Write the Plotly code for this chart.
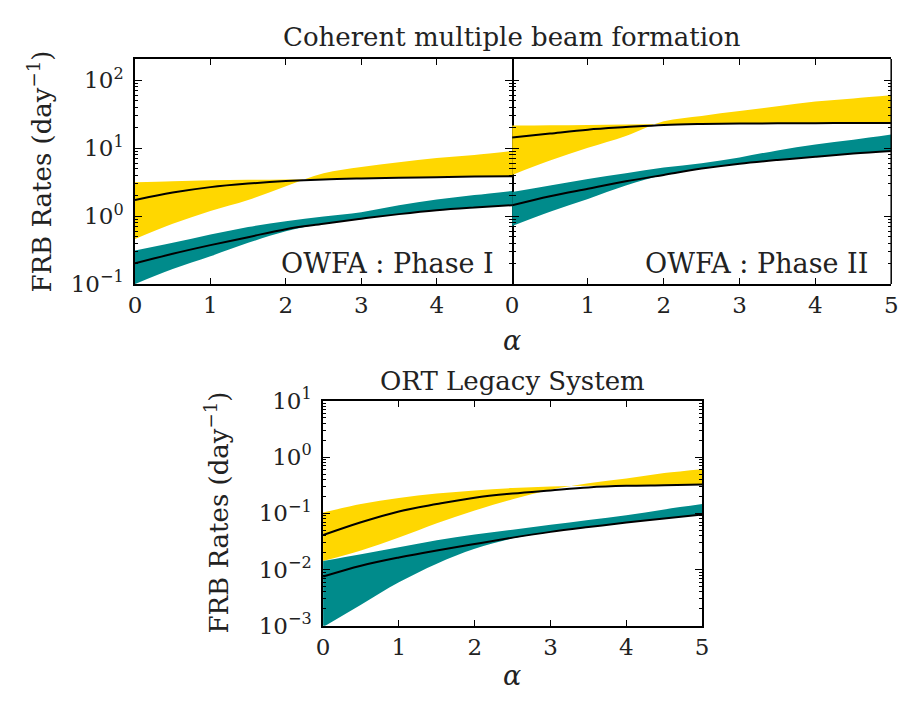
import plotly.graph_objects as go

# ---------------- data ----------------
alpha = [0.0, 0.5, 1.0, 1.5, 2.0, 2.5, 3.0, 3.5, 4.0, 4.5, 5.0]

# OWFA : Phase I
p1_yel_a = [3.15, 3.25, 3.36, 3.43, 3.47, 3.51, 3.58, 3.66, 3.74, 3.82, 3.86]
p1_yel_b = [0.46, 0.77, 1.19, 1.73, 2.76, 4.26, 5.28, 6.2, 7.15, 7.96, 9.08]
p1_yel_mid = [1.73, 2.22, 2.67, 3.01, 3.28, 3.47, 3.58, 3.66, 3.74, 3.82, 3.86]
p1_teal_hi = [0.311, 0.404, 0.535, 0.692, 0.84, 0.99, 1.14, 1.44, 1.75, 2.04, 2.35]
p1_teal_lo = [0.1, 0.166, 0.256, 0.404, 0.60, 0.771, 0.917, 1.07, 1.22, 1.34, 1.45]
p1_teal_mid = [0.202, 0.279, 0.374, 0.49, 0.643, 0.771, 0.917, 1.07, 1.22, 1.34, 1.45]

# OWFA : Phase II
p2_yel_a = [21.5, 21.8, 22.0, 22.3, 22.5, 22.7, 23.0, 23.2, 23.2, 23.5, 23.5]
p2_yel_b = [4.04, 6.56, 10.1, 15.1, 24.8, 29.8, 35.1, 41.2, 48.4, 54.0, 60.1]
p2_yel_mid = [14.3, 16.4, 18.7, 20.4, 22.0, 22.7, 23.0, 23.2, 23.2, 23.5, 23.5]
p2_teal_hi = [2.27, 2.82, 3.51, 4.26, 5.17, 6.02, 7.31, 9.27, 11.3, 13.3, 15.9]
p2_teal_lo = [0.715, 1.16, 1.79, 2.83, 4.04, 5.0, 5.9, 6.7, 7.47, 8.33, 9.07]
p2_teal_mid = [1.44, 1.96, 2.53, 3.25, 4.04, 5.0, 5.9, 6.7, 7.47, 8.33, 9.07]

# ORT Legacy System
ort_yel_a = [0.103, 0.146, 0.187, 0.225, 0.256, 0.281, 0.300, 0.308, 0.312, 0.316, 0.325]
ort_yel_b = [0.0142, 0.0219, 0.037, 0.0667, 0.112, 0.178, 0.263, 0.342, 0.417, 0.52, 0.61]
ort_yel_mid = [0.041, 0.0693, 0.108, 0.146, 0.19, 0.225, 0.256, 0.289, 0.308, 0.316, 0.325]
ort_teal_hi = [0.0142, 0.0187, 0.025, 0.0333, 0.0422, 0.0513, 0.0624, 0.076, 0.0925, 0.117, 0.146]
ort_teal_lo = [0.00095, 0.00237, 0.00593, 0.0127, 0.0234, 0.036, 0.0468, 0.057, 0.0684, 0.081, 0.095]
ort_teal_mid = [0.0075, 0.0117, 0.0164, 0.0219, 0.0285, 0.037, 0.0468, 0.057, 0.0684, 0.081, 0.095]

x_ticks = [0, 1, 2, 3, 4, 5]
x_labels_left = ["0", "1", "2", "3", "4", ""]
x_labels_full = ["0", "1", "2", "3", "4", "5"]
top_y_ticks = [0.1, 1, 10, 100]
top_y_labels = ["10<sup>\u22121</sup>", "10<sup>0</sup>", "10<sup>1</sup>", "10<sup>2</sup>"]
bot_y_ticks = [0.001, 0.01, 0.1, 1, 10]
bot_y_labels = ["10<sup>\u22123</sup>", "10<sup>\u22122</sup>", "10<sup>\u22121</sup>",
                "10<sup>0</sup>", "10<sup>1</sup>"]

YELLOW = "#FFD700"
TEAL = "#008B8B"
FONT = "DejaVu Serif"
TXT = "#222222"

W, H = 911, 702
def fx(p):
    return p / W
def fy(p):
    return 1 - p / H

fig = go.Figure()

def add_panel(xa, ya, yel_a, yel_b, yel_mid, t_hi, t_lo, t_mid):
    common = dict(x=alpha, xaxis=xa, yaxis=ya, mode="lines", showlegend=False,
                  hoverinfo="skip")
    fig.add_trace(go.Scatter(y=yel_b, line=dict(width=0, shape="spline"), **common))
    fig.add_trace(go.Scatter(y=yel_a, line=dict(width=0, shape="spline"),
                             fill="tonexty", fillcolor=YELLOW, **common))
    fig.add_trace(go.Scatter(y=t_lo, line=dict(width=0, shape="spline"), **common))
    fig.add_trace(go.Scatter(y=t_hi, line=dict(width=0, shape="spline"),
                             fill="tonexty", fillcolor=TEAL, **common))
    fig.add_trace(go.Scatter(y=yel_mid, line=dict(width=2, color="black", shape="spline"), **common))
    fig.add_trace(go.Scatter(y=t_mid, line=dict(width=2, color="black", shape="spline"), **common))

add_panel("x", "y", p1_yel_a, p1_yel_b, p1_yel_mid, p1_teal_hi, p1_teal_lo, p1_teal_mid)
add_panel("x2", "y2", p2_yel_a, p2_yel_b, p2_yel_mid, p2_teal_hi, p2_teal_lo, p2_teal_mid)
add_panel("x3", "y3", ort_yel_a, ort_yel_b, ort_yel_mid, ort_teal_hi, ort_teal_lo, ort_teal_mid)

def minor_vals(lo, hi):
    out = []
    for e in range(lo, hi + 1):
        for k in range(2, 10):
            out.append(k * 10 ** e)
    return out

def xaxis(dom, labels):
    return dict(domain=[fx(dom[0]), fx(dom[1])], range=[0, 5], tickmode="array",
                tickvals=x_ticks, ticktext=labels, ticks="inside", ticklen=6,
                tickwidth=1.2, tickcolor="black", showline=True, linecolor="black",
                linewidth=1.5, mirror="ticks", showgrid=False, zeroline=False,
                tickfont=dict(family=FONT, size=23, color=TXT))

def yaxis(dom, rng, tv, tt, show, anchor, line=True):
    return dict(domain=[fy(dom[1]), fy(dom[0])], type="log", range=list(rng),
                tickmode="array", tickvals=tv, ticktext=tt, showticklabels=show,
                ticks="inside", ticklen=7, tickwidth=1.2, tickcolor="black",
                ticklabelstandoff=5,
                minor=dict(ticks="inside", ticklen=3.5, tickwidth=0.8, tickcolor="black",
                           tickmode="array", tickvals=minor_vals(-4, 2), showgrid=False),
                showline=line, linecolor="black", linewidth=1.5, mirror="ticks",
                showgrid=False, zeroline=False, anchor=anchor,
                tickfont=dict(family=FONT, size=23, color=TXT))

fig.update_layout(
    width=W, height=H, margin=dict(l=0, r=0, t=0, b=0),
    paper_bgcolor="white", plot_bgcolor="white",
    xaxis=dict(**xaxis((130, 513), x_labels_left), anchor="y"),
    xaxis2=dict(**xaxis((513, 898), x_labels_full), anchor="y2"),
    xaxis3=dict(**xaxis((321, 706), x_labels_full), anchor="y3"),
    yaxis=yaxis((44, 279), (-1, 2.31), top_y_ticks, top_y_labels, True, "x"),
    yaxis2=yaxis((44, 279), (-1, 2.31), top_y_ticks, top_y_labels, False, "x2", line=False),
    yaxis3=yaxis((401, 636), (-3, 1), bot_y_ticks, bot_y_labels, True, "x3"),
)

# right border of the Phase II panel (its left border is the Phase I mirror line)
fig.add_shape(type="line", xref="x2 domain", yref="y2 domain", x0=1, x1=1, y0=0, y1=1,
              line=dict(color="black", width=1.5))

def ann(text, x, y, size, xanchor="center", yanchor="middle", angle=0):
    fig.add_annotation(text=text, x=fx(x), y=fy(y), xref="paper", yref="paper",
                       showarrow=False, xanchor=xanchor, yanchor=yanchor,
                       textangle=angle, font=dict(family=FONT, size=size, color=TXT))

ann("Coherent multiple beam formation", 513, 21, 26)
ann("ORT Legacy System", 513, 380, 26)
ann("<i>\u03b1</i>", 513, 338, 27)
ann("<i>\u03b1</i>", 513, 688, 27)
ann("FRB Rates (day<sup>\u22121</sup>)", 34, 161, 26, angle=-90)
ann("FRB Rates (day<sup>\u22121</sup>)", 213, 518, 26, angle=-90)
ann("OWFA : Phase I", 497, 258, 27, xanchor="right")
ann("OWFA : Phase II", 876, 258, 27, xanchor="right")

fig.write_html("out.html")
